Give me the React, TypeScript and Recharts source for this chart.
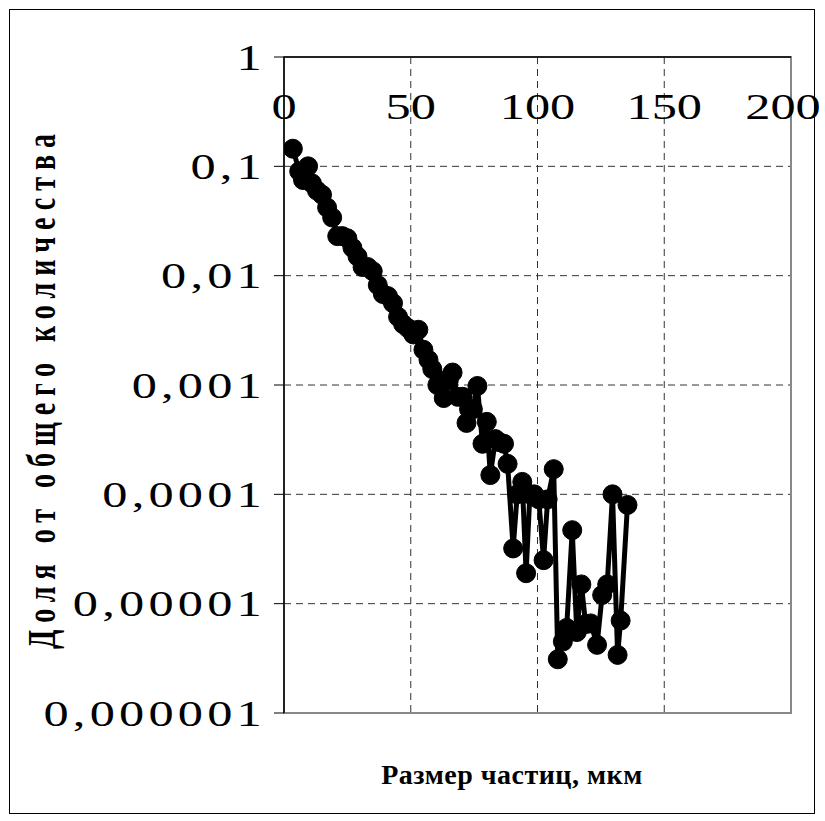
import React from "react"
import { LineChart, Line, XAxis, YAxis, CartesianGrid, ReferenceArea } from "recharts"

// particle size, um
const sizes = [
  3.5, 6, 7.5, 9.5, 11, 13, 15, 17, 19, 21, 23, 25, 27, 29, 31, 33, 35, 37, 39, 41,
  43, 45, 47, 49, 51, 53, 55, 57, 58.5, 60.5, 62, 63, 65, 66.5, 68.5, 70.5, 72, 73, 74.5, 76.3,
  78.3, 80, 81.4, 83.4, 85, 86.8, 88.2, 90.4, 92, 94, 95.5, 97, 98.7, 100.5, 102.4, 104, 106.4, 108, 110, 111.5,
  113.7, 115.5, 117.3, 119, 121, 123.5, 125.5, 127.5, 129.6, 131.6, 132.8, 135.5
]

// share of total count
const shares = [
  0.145, 0.09, 0.075, 0.1, 0.07, 0.06, 0.055, 0.042, 0.034, 0.023, 0.023, 0.022, 0.018, 0.015, 0.012, 0.012, 0.011, 0.0082, 0.0068, 0.0065,
  0.0056, 0.0042, 0.0036, 0.0033, 0.0029, 0.0032, 0.0021, 0.0017, 0.0014, 0.001, 0.0011, 0.00076, 0.0011, 0.0013, 0.00078, 0.00078, 0.00045, 0.0006, 0.0006, 0.00098,
  0.00029, 0.00046, 0.00015, 0.00032, 0.0003, 0.00029, 0.00019, 0.000032, 0.0001, 0.00013, 0.000019, 0.0001, 0.0001, 0.00009, 0.000025, 0.00009, 0.00017, 0.0000031, 0.0000045, 0.000006,
  0.000047, 0.0000055, 0.000015, 0.0000065, 0.0000066, 0.0000042, 0.000012, 0.000015, 0.0001, 0.0000034, 0.000007, 0.00008
]

const xTicks = [0, 50, 100, 150, 200]
const yTicks = [0.000001, 0.00001, 0.0001, 0.001, 0.01, 0.1, 1]
const yTickLabels = ["0,000001", "0,00001", "0,0001", "0,001", "0,01", "0,1", "1"]

const data = sizes.map((x, i) => ({ x, y: shares[i] }))

const FONT = "'Liberation Serif', 'Times New Roman', serif"
const PLOT_TOP = 57
const PLOT_LEFT = 284
const STRETCH = 1.4

const renderXTick = (props: any) => {
  const { x, payload } = props
  // the last label sits at the right edge of the frame, keep it inside
  const cx = payload.value === 200 ? x - 8 : x
  return (
    <g key={`xt-${payload.value}`} transform={`translate(${cx},${PLOT_TOP + 62}) scale(${STRETCH},1)`}>
      <text textAnchor="middle" fontFamily={FONT} fontSize={36} fill="#000">
        {payload.value}
      </text>
    </g>
  )
}

const renderYTick = (props: any) => {
  const { y, payload } = props
  const idx = yTicks.indexOf(payload.value)
  return (
    <g key={`yt-${payload.value}`} transform={`translate(${PLOT_LEFT - 18},${y}) scale(${STRETCH},1)`}>
      <text textAnchor="end" dy="0.35em" fontFamily={FONT} fontSize={36} letterSpacing={3} fill="#000">
        {idx >= 0 ? yTickLabels[idx] : ""}
      </text>
    </g>
  )
}

export default function App() {
  return (
    <div style={{ position: "absolute", left: 0, top: 0, width: 825, height: 821, background: "#fff" }}>
      <div
        style={{
          position: "absolute",
          left: 9,
          top: 9,
          width: 806,
          height: 805,
          border: "1px solid #000",
          boxSizing: "border-box",
        }}
      />
      <LineChart
        width={825}
        height={821}
        data={data}
        margin={{ top: PLOT_TOP - 20, left: PLOT_LEFT - 60, right: 34, bottom: 108 }}
      >
        <CartesianGrid stroke="#333" strokeDasharray="7 5" strokeWidth={1} />
        <ReferenceArea
          x1={0}
          x2={200}
          y1={0.000001}
          y2={1}
          fill="none"
          stroke="#888"
          strokeWidth={2}
          ifOverflow="visible"
        />
        <XAxis
          type="number"
          dataKey="x"
          orientation="top"
          domain={[0, 200]}
          ticks={xTicks}
          height={20}
          tickLine={false}
          axisLine={{ stroke: "#000", strokeWidth: 1.5 }}
          tick={renderXTick}
          allowDataOverflow
        />
        <YAxis
          type="number"
          scale="log"
          domain={[0.000001, 1]}
          ticks={yTicks}
          width={60}
          tickSize={10}
          tickLine={{ stroke: "#000" }}
          axisLine={{ stroke: "#000", strokeWidth: 1.5 }}
          tick={renderYTick}
          allowDataOverflow
        />
        <Line
          type="linear"
          dataKey="y"
          stroke="#000"
          strokeWidth={5}
          dot={{ r: 9.5, fill: "#000", stroke: "#000", strokeWidth: 1 }}
          isAnimationActive={false}
        />
      </LineChart>
      <svg
        width={825}
        height={821}
        style={{ position: "absolute", left: 0, top: 0, pointerEvents: "none" }}
      >
        <text
          x={512}
          y={784}
          textAnchor="middle"
          fontFamily={FONT}
          fontWeight="bold"
          fontSize={28}
          letterSpacing={0.5}
          fill="#000"
        >
          Размер частиц, мкм
        </text>
        <g transform={`translate(55,388) scale(${STRETCH},1) rotate(-90)`}>
          <text
            textAnchor="middle"
            fontFamily={FONT}
            fontWeight="bold"
            fontSize={28}
            letterSpacing={7}
            fill="#000"
          >
            Доля от общего количества
          </text>
        </g>
      </svg>
    </div>
  )
}
